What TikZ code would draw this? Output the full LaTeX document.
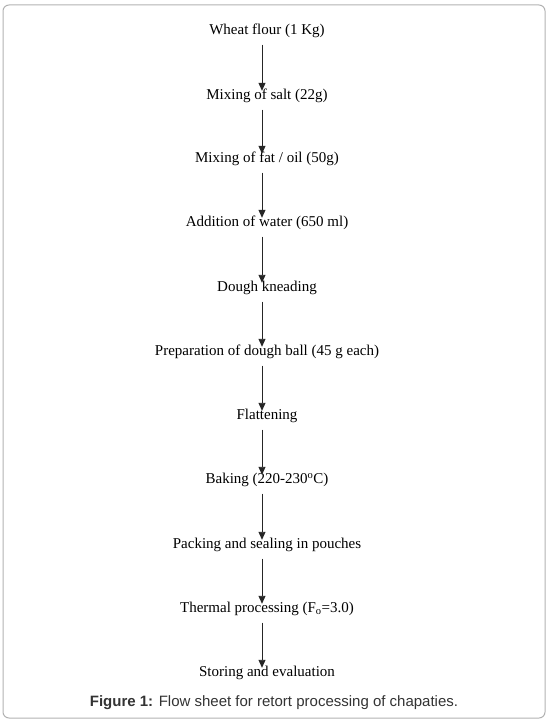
\documentclass[tikz,border=0pt]{standalone}
\usepackage{fontspec}
\setmainfont{Liberation Serif}
\newfontfamily\capfont{Liberation Sans}
\usetikzlibrary{arrows.meta}

\begin{document}
\begin{tikzpicture}[
                x=1pt, y=-1pt,
                ->,
                >={Triangle[length=8pt, width=7pt]},
                every node/.style={inner sep=0pt, text height=11pt, text depth=4pt},
                every edge/.style={draw, black!85, line width=0.9pt, shorten <=6pt, shorten >=-2.5pt}
            ]
                \fontsize{15}{18}\selectfont
                \useasboundingbox (0, 0) rectangle (548, 727);
                \draw[-, black!30, line width=1pt, rounded corners=6pt] (3, 5) rectangle (545, 718);
                \node (0) at (267, 31) {Wheat flour (1 Kg)};
                \node (1) at (267, 96) {Mixing of salt (22g)};
                \node (2) at (267, 159) {Mixing of fat / oil (50g)};
                \node (3) at (267, 223) {Addition of water (650 ml)};
                \node (4) at (267, 288) {Dough kneading};
                \node (5) at (267, 352) {Preparation of dough ball (45 g each)};
                \node (6) at (267, 416) {Flattening};
                \node (7) at (267, 480) {Baking (220-230\textsuperscript{o}C)};
                \node (8) at (267, 545) {Packing and sealing in pouches};
                \node (9) at (267, 609) {Thermal processing (F\textsubscript{o}=3.0)};
                \node (10) at (267, 673) {Storing and evaluation};
                \node[text height=, text depth=, black!80] (11) at (274, 703)
                    {\capfont\fontsize{15}{18}\selectfont\textbf{Figure 1:} Flow sheet for retort processing of chapaties.};
                \path ([xshift=-5pt]0.south) edge ([xshift=-5pt]1.north)
                ([xshift=-5pt]1.south) edge ([xshift=-5pt]2.north)
                ([xshift=-5pt]2.south) edge ([xshift=-5pt]3.north)
                ([xshift=-5pt]3.south) edge ([xshift=-5pt]4.north)
                ([xshift=-5pt]4.south) edge ([xshift=-5pt]5.north)
                ([xshift=-5pt]5.south) edge ([xshift=-5pt]6.north)
                ([xshift=-5pt]6.south) edge ([xshift=-5pt]7.north)
                ([xshift=-5pt]7.south) edge ([xshift=-5pt]8.north)
                ([xshift=-5pt]8.south) edge ([xshift=-5pt]9.north)
                ([xshift=-5pt]9.south) edge ([xshift=-5pt]10.north);
            \end{tikzpicture}
\end{document}
